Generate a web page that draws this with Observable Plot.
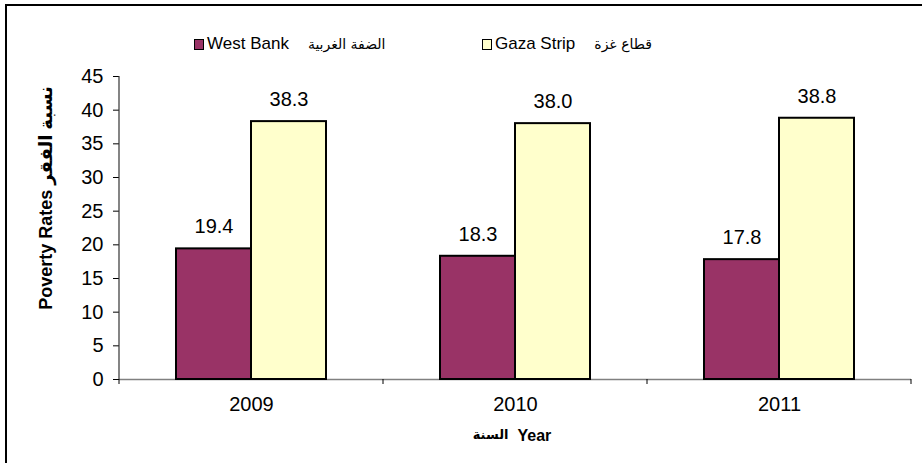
<!DOCTYPE html>
<html><head><meta charset="utf-8">
<script src="https://cdn.jsdelivr.net/npm/d3@7"></script>
<script src="https://cdn.jsdelivr.net/npm/@observablehq/plot@0.6"></script>
<style>
body{margin:0;background:#fff;font-family:"Liberation Sans",Arial,"DejaVu Sans",sans-serif;}
#wrap{position:relative;width:922px;height:463px;overflow:hidden;background:#fff;}
#border{position:absolute;left:5px;top:4px;width:940px;height:480px;border:2px solid #000;}
#legend{position:absolute;left:0;top:0;width:922px;height:60px;}
.item{position:absolute;top:34px;display:flex;align-items:center;font-size:17px;white-space:nowrap;color:#000;}
.sw{width:8px;height:9px;border:1.5px solid #000;margin-right:3px;}
.ar{font-size:14px;margin-left:19px;font-family:"DejaVu Sans",sans-serif;}
#chart{position:absolute;left:0;top:60px;}
</style></head><body>
<div id="wrap"><div id="border"></div><div id="legend"></div><div id="chart"></div></div>
<script>
const years = ["2009", "2010", "2011"];
const series = ["West Bank", "Gaza Strip"];
const seriesArabic = ["الضفة الغربية", "قطاع غزة"];
const westBank = [19.4, 18.3, 17.8];
const gaza = [38.3, 38.0, 38.8];
const colors = ["#993366", "#FFFFCC"];
const yTicks = [0, 5, 10, 15, 20, 25, 30, 35, 40, 45];
const yLabel = "Poverty Rates نسبة الفقر";
const xLabelEn = "Year";
const xLabelAr = "السنة";

const data = years.flatMap((yr, i) => [
  {year: yr, series: series[0], value: westBank[i]},
  {year: yr, series: series[1], value: gaza[i]}
]);

// legend
const legend = document.getElementById("legend");
series.forEach((s, i) => {
  const item = document.createElement("div");
  item.className = "item";
  item.style.left = (194 + i * 288) + "px";
  const sw = document.createElement("span");
  sw.className = "sw";
  sw.style.background = colors[i];
  const en = document.createElement("span");
  en.textContent = s;
  const ar = document.createElement("span");
  ar.className = "ar";
  ar.textContent = seriesArabic[i];
  item.append(sw, en, ar);
  legend.append(item);
});

const font = '"Liberation Sans", Arial, "DejaVu Sans", sans-serif';
const chart = Plot.plot({
  width: 922, height: 403,
  marginTop: 16, marginBottom: 84, marginLeft: 118, marginRight: 10,
  style: {fontFamily: font, fontSize: "20px", color: "#000", background: "transparent", overflow: "visible"},
  fx: {domain: years, padding: 0, axis: "bottom", tickSize: 0, tickPadding: 17, label: null},
  x: {domain: series, paddingInner: 0, paddingOuter: 0.74, axis: null},
  y: {domain: [0, 45], ticks: yTicks, tickSize: 6, tickPadding: 10, label: null},
  color: {domain: series, range: colors},
  marks: [
    Plot.ruleY([0], {stroke: "#808080", strokeWidth: 1.5}),
    Plot.barY(data, {fx: "year", x: "series", y: "value", fill: "series", stroke: "#000", strokeWidth: 2}),
    Plot.text(data, {fx: "year", x: "series", y: "value", text: d => d.value.toFixed(1), dy: -22, fontSize: 20}),
    Plot.text([yLabel], {fx: () => years[0], frameAnchor: "left", textAnchor: "middle", rotate: -90, dx: -73, dy: -30, fontWeight: "bold", fontSize: 18}),
    Plot.text([xLabelEn], {fx: () => years[1], frameAnchor: "bottom", textAnchor: "start", dx: 2, dy: 61, fontWeight: "bold", fontSize: 16}),
    Plot.text([xLabelAr], {fx: () => years[1], frameAnchor: "bottom", textAnchor: "end", dx: -7, dy: 59, fontWeight: "bold", fontSize: 13, fontFamily: '"DejaVu Sans", sans-serif'})
  ]
});
document.getElementById("chart").append(chart);

// axis line and category boundary ticks from the plot's own scales
const fxs = chart.scale("fx"), ys = chart.scale("y");
const y0 = ys.apply(0), yTop = ys.apply(45);
const edges = years.map(y => fxs.apply(y)).concat([fxs.apply(years[years.length - 1]) + fxs.bandwidth]);
const g = d3.select(chart).append("g");
g.selectAll("line.edge").data(edges).join("line").attr("class", "edge")
  .attr("x1", d => d).attr("x2", d => d).attr("y1", y0).attr("y2", y0 + 5)
  .attr("stroke", "#000");
g.append("line").attr("x1", edges[0]).attr("x2", edges[0]).attr("y1", yTop).attr("y2", y0)
  .attr("stroke", "#333").attr("stroke-width", 1.2);
</script>
</body></html>
